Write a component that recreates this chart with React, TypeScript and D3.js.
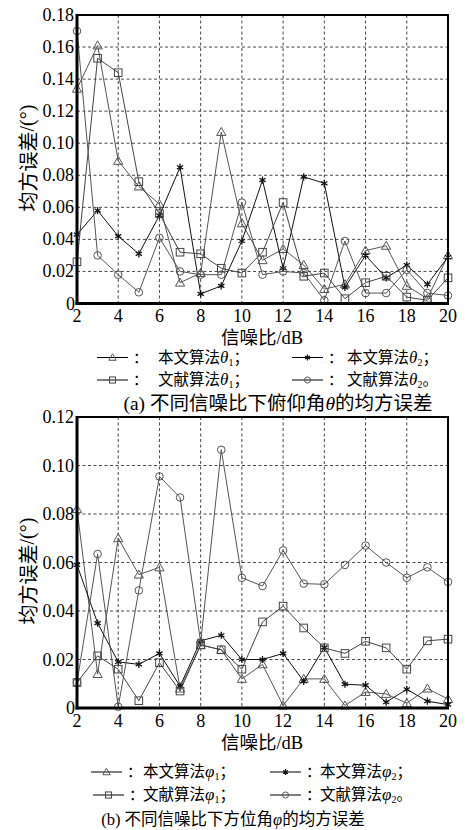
import * as d3 from 'd3';

// 信噪比 (dB)
const snr = [2, 3, 4, 5, 6, 7, 8, 9, 10, 11, 12, 13, 14, 15, 16, 17, 18, 19, 20];
const xTicks = [2, 4, 6, 8, 10, 12, 14, 16, 18, 20];

// (a) 俯仰角 θ
const thetaOurs1 = [0.134, 0.161, 0.089, 0.073, 0.062, 0.013, 0.019, 0.107, 0.05, 0.027, 0.034, 0.024, 0.009, 0.012, 0.033, 0.036, 0.011, 0.003, 0.03];
const thetaOurs2 = [0.043, 0.058, 0.042, 0.031, 0.055, 0.085, 0.006, 0.011, 0.039, 0.077, 0.022, 0.079, 0.075, 0.01, 0.03, 0.016, 0.024, 0.012, 0.029];
const thetaRef1 = [0.026, 0.153, 0.144, 0.076, 0.056, 0.032, 0.031, 0.022, 0.019, 0.032, 0.063, 0.017, 0.019, 0.003, 0.013, 0.017, 0.004, 0.002, 0.016];
const thetaRef2 = [0.17, 0.03, 0.018, 0.007, 0.041, 0.02, 0.018, 0.018, 0.063, 0.018, 0.02, 0.019, 0.002, 0.039, 0.0065, 0.0065, 0.021, 0.0065, 0.005];
const thetaTicks = [0, 0.02, 0.04, 0.06, 0.08, 0.1, 0.12, 0.14, 0.16, 0.18];

// (b) 方位角 φ
const phiOurs1 = [0.082, 0.014, 0.07, 0.055, 0.058, 0.008, 0.026, 0.024, 0.012, 0.018, 0.001, 0.012, 0.012, 0.001, 0.0066, 0.0058, 0.002, 0.008, 0.0037];
const phiOurs2 = [0.059, 0.035, 0.019, 0.018, 0.0225, 0.009, 0.0277, 0.03, 0.02, 0.02, 0.0225, 0.011, 0.025, 0.0098, 0.0094, 0.0024, 0.0077, 0.0028, 0.0014];
const phiRef1 = [0.0105, 0.0215, 0.016, 0.003, 0.0187, 0.007, 0.026, 0.024, 0.016, 0.0355, 0.042, 0.033, 0.0248, 0.0225, 0.0275, 0.0248, 0.016, 0.0277, 0.0284];
const phiRef2 = [0.0105, 0.0635, 0.0005, 0.0485, 0.0955, 0.0868, 0.027, 0.1065, 0.0537, 0.0503, 0.065, 0.0513, 0.051, 0.059, 0.067, 0.06, 0.0537, 0.058, 0.052];
const phiTicks = [0, 0.02, 0.04, 0.06, 0.08, 0.1, 0.12];

const FONT = "'Liberation Serif', 'Times New Roman', 'Noto Sans CJK SC', serif";
const CJK = "'Noto Sans CJK SC', 'Liberation Serif', serif";

type Shape = 'tri' | 'star' | 'sq' | 'circ';
const lineColor: Record<Shape, string> = { tri: '#555', star: '#111', sq: '#444', circ: '#555' };

function Marker({ shape, x, y, s = 1 }: { shape: Shape; x: number; y: number; s?: number }) {
  const c = lineColor[shape];
  if (shape === 'tri') {
    const r = 4.6 * s;
    return <path d={`M${x},${y - r}L${x + r},${y + r * 0.75}L${x - r},${y + r * 0.75}Z`} fill="none" stroke={c} strokeWidth={1} />;
  }
  if (shape === 'sq') {
    const r = 3.8 * s;
    return <rect x={x - r} y={y - r} width={2 * r} height={2 * r} fill="none" stroke={c} strokeWidth={1} />;
  }
  if (shape === 'circ') {
    return <circle cx={x} cy={y} r={3.8 * s} fill="none" stroke={c} strokeWidth={1} />;
  }
  const r = 3.6 * s;
  const d = [0, 60, 120].map(a => {
    const t = (a * Math.PI) / 180;
    return `M${x - r * Math.sin(t)},${y - r * Math.cos(t)}L${x + r * Math.sin(t)},${y + r * Math.cos(t)}`;
  }).join('');
  return <path d={d} stroke={c} strokeWidth={1.3} fill="none" />;
}

interface Series { shape: Shape; values: number[] }

function Panel({ top, bottom, yMax, yTicks, series, yLabelY }: {
  top: number; bottom: number; yMax: number; yTicks: number[]; series: Series[]; yLabelY: number;
}) {
  const left = 77, right = 448;
  const x = d3.scaleLinear().domain([2, 20]).range([left, right]);
  const y = d3.scaleLinear().domain([0, yMax]).range([bottom, top]);
  const line = d3.line<number>().x((_, i) => x(snr[i])).y(d => y(d));
  const fmt = (v: number) => (v === 0 ? '0' : d3.format('.2f')(v));
  return (
    <g>
      {xTicks.slice(1, -1).map(t => (
        <line key={'gx' + t} x1={x(t)} x2={x(t)} y1={top} y2={bottom} stroke="#333" strokeWidth={0.9} strokeDasharray="3,2.5" />
      ))}
      {yTicks.slice(1, -1).map(t => (
        <line key={'gy' + t} x1={left} x2={right} y1={y(t)} y2={y(t)} stroke="#333" strokeWidth={0.9} strokeDasharray="3,2.5" />
      ))}
      {series.map(s => (
        <g key={s.shape}>
          <path d={line(s.values) || ''} fill="none" stroke={lineColor[s.shape]} strokeWidth={1} />
          {s.values.map((v, i) => <Marker key={i} shape={s.shape} x={x(snr[i])} y={y(v)} />)}
        </g>
      ))}
      <rect x={left} y={top} width={right - left} height={bottom - top} fill="none" stroke="#000" strokeWidth={2} />
      <line x1={left} x2={left} y1={top - 1} y2={bottom + 1.5} stroke="#000" strokeWidth={3} />
      <line x1={left - 1.5} x2={right + 1} y1={bottom} y2={bottom} stroke="#000" strokeWidth={3} />
      {yTicks.map(t => (
        <text key={'ty' + t} x={t === 0 ? left - 2 : left - 3} y={y(t) + 6} textAnchor="end" fontSize={18} fontFamily={FONT}>{fmt(t)}</text>
      ))}
      {xTicks.map(t => (
        <text key={'tx' + t} x={x(t)} y={bottom + 18.5} textAnchor="middle" fontSize={18} fontFamily={FONT}>{t}</text>
      ))}
      <text transform={`translate(27,${yLabelY}) rotate(-90)`} textAnchor="middle" dominantBaseline="central" fontSize={20} fontFamily={FONT}>
        <tspan fontFamily={CJK}>均方误差</tspan>/(°)
      </text>
      <text x={262} y={bottom + 40.5} textAnchor="middle" fontSize={18.5} fontFamily={FONT}>
        <tspan fontFamily={CJK}>信噪比</tspan>/dB
      </text>
    </g>
  );
}

function LegendItem({ sx, tx, y, shape, label, sym, sub, end }: {
  sx: number; tx: number; y: number; shape: Shape; label: string; sym: string; sub: string; end: string;
}) {
  return (
    <g>
      <line x1={sx} x2={sx + 31} y1={y - 5} y2={y - 5} stroke="#000" strokeWidth={1} />
      <Marker shape={shape} x={sx + 15.5} y={y - 5} s={0.8} />
      <text x={sx + 36} y={y} fontSize={15} fontFamily={CJK}>：</text>
      <text x={tx} y={y} fontSize={15.5} fontFamily={CJK}>
        {label}
        <tspan fontFamily={FONT} fontStyle="italic" fontSize={17}>{sym}</tspan>
        <tspan fontFamily={FONT} fontSize={10} dy={3}>{sub}</tspan>
        <tspan dy={-3}>{end}</tspan>
      </text>
    </g>
  );
}

export default function App() {
  return (
    <svg width={467} height={830} style={{ position: 'absolute', left: 0, top: 0, background: '#fff' }}>
      <Panel top={15} bottom={303.5} yMax={0.18} yTicks={thetaTicks} yLabelY={158}
        series={[
          { shape: 'tri', values: thetaOurs1 },
          { shape: 'star', values: thetaOurs2 },
          { shape: 'sq', values: thetaRef1 },
          { shape: 'circ', values: thetaRef2 },
        ]} />
      <LegendItem sx={97} tx={158} y={362.5} shape="tri" label="本文算法" sym="θ" sub="1" end="；" />
      <LegendItem sx={292} tx={347} y={362.5} shape="star" label="本文算法" sym="θ" sub="2" end="；" />
      <LegendItem sx={97} tx={158} y={385} shape="sq" label="文献算法" sym="θ" sub="1" end="；" />
      <LegendItem sx={292} tx={347} y={385} shape="circ" label="文献算法" sym="θ" sub="2" end="。" />
      <text x={278} y={410} textAnchor="middle" fontSize={19.5} fontFamily={FONT}>
        (a) <tspan fontFamily={CJK}>不同信噪比下俯仰角</tspan><tspan fontStyle="italic">θ</tspan><tspan fontFamily={CJK}>的均方误差</tspan>
      </text>

      <Panel top={417} bottom={708} yMax={0.12} yTicks={phiTicks} yLabelY={571}
        series={[
          { shape: 'tri', values: phiOurs1 },
          { shape: 'star', values: phiOurs2 },
          { shape: 'sq', values: phiRef1 },
          { shape: 'circ', values: phiRef2 },
        ]} />
      <LegendItem sx={91} tx={143} y={777} shape="tri" label="本文算法" sym="φ" sub="1" end="；" />
      <LegendItem sx={270} tx={320} y={777} shape="star" label="本文算法" sym="φ" sub="2" end="；" />
      <LegendItem sx={93} tx={143} y={800} shape="sq" label="文献算法" sym="φ" sub="1" end="；" />
      <LegendItem sx={270} tx={320} y={800} shape="circ" label="文献算法" sym="φ" sub="2" end="。" />
      <text x={233} y={825} textAnchor="middle" fontSize={16.5} fontFamily={FONT}>
        (b) <tspan fontFamily={CJK}>不同信噪比下方位角</tspan><tspan fontStyle="italic">φ</tspan><tspan fontFamily={CJK}>的均方误差</tspan>
      </text>
    </svg>
  );
}
